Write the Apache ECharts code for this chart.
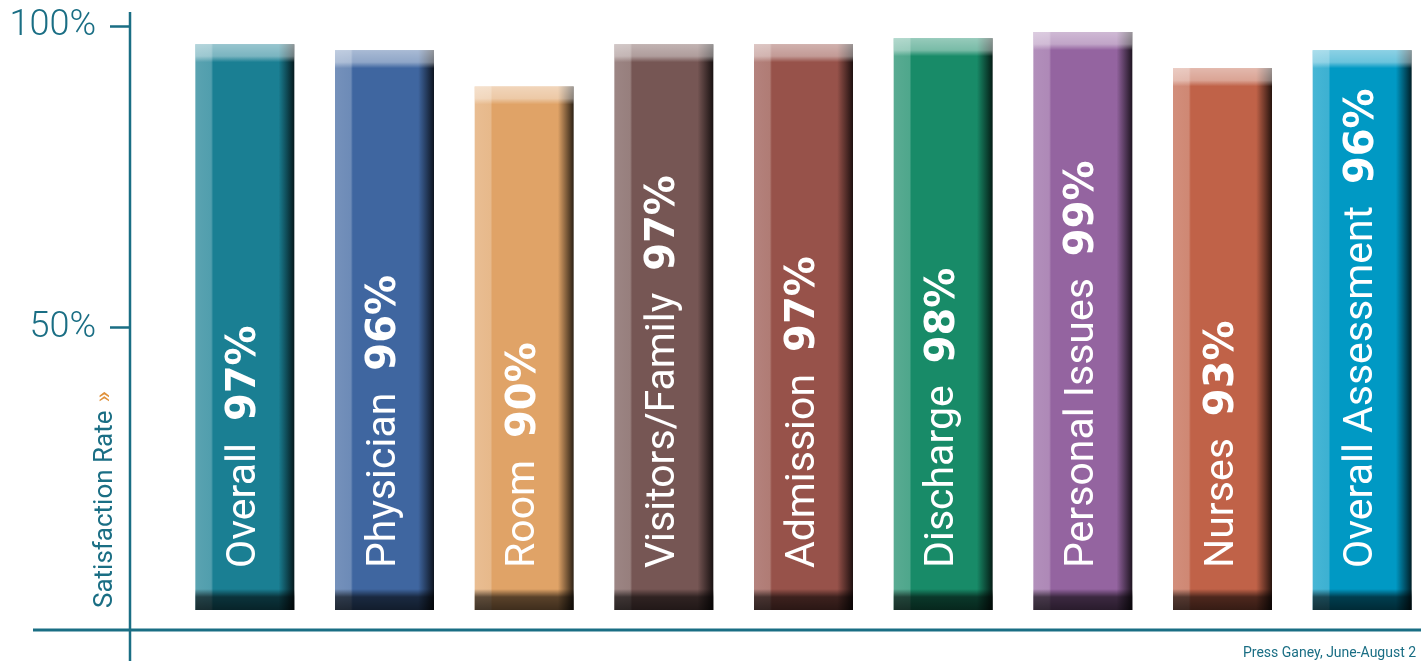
<!DOCTYPE html>
<html>
<head>
<meta charset="utf-8">
<script src="https://cdn.jsdelivr.net/npm/echarts@6/dist/echarts.min.js"></script>
<style>
html,body{margin:0;padding:0;background:#fff;overflow:hidden;}
#chart{width:1421px;height:661px;}
</style>
</head>
<body>
<div id="chart"></div>
<script>
// ---- data ----
var categories = ['Overall','Physician','Room','Visitors/Family','Admission','Discharge','Personal Issues','Nurses','Overall Assessment'];
var values = [97, 96, 90, 97, 97, 98, 99, 93, 96];
var barColors = ['#1a7f93','#3f66a0','#e0a367','#765654','#97524a','#188b68','#9464a0','#c06248','#0099c4'];
var yTicks = [50, 100];
var axisTitle = 'Satisfaction Rate';
var sourceText = 'Press Ganey, June-August 2';

// ---- layout / style ----
var AXIS = '#1a6e84';
var Y_MIN = 3.2, Y_MAX = 102;
var GRID_TOP = 14, GRID_BOTTOM = 51, H = 661;
var GRID_H = H - GRID_TOP - GRID_BOTTOM;

function hex2rgb(h){h=h.replace('#','');return [parseInt(h.substr(0,2),16),parseInt(h.substr(2,2),16),parseInt(h.substr(4,2),16)];}
function mix(c, target, t){
  var a = hex2rgb(c), b = target === 'w' ? [255,255,255] : [0,0,0];
  return 'rgb(' + a.map(function(v,i){return Math.round(v + (b[i]-v)*t);}).join(',') + ')';
}

var baseData = values.map(function(v, i){
  var c = barColors[i];
  return {
    value: v,
    itemStyle: {
      color: new echarts.graphic.LinearGradient(0,0,1,0,[
        {offset:0, color: mix(c,'w',0.28)},
        {offset:0.16, color: mix(c,'w',0.24)},
        {offset:0.18, color: c},
        {offset:0.84, color: c},
        {offset:0.93, color: mix(c,'b',0.45)},
        {offset:1, color: mix(c,'b',0.8)}
      ])
    }
  };
});

var overlayData = values.map(function(v, i){
  var h = (v - Y_MIN) / (Y_MAX - Y_MIN) * GRID_H;
  var t1 = 12 / h, t2 = 18 / h, b1 = 1 - 21 / h, b2 = 1 - 13 / h;
  return {
    value: v,
    itemStyle: {
      color: new echarts.graphic.LinearGradient(0,0,0,1,[
        {offset:0, color:'rgba(255,255,255,0.55)'},
        {offset:t1, color:'rgba(255,255,255,0.42)'},
        {offset:t2, color:'rgba(255,255,255,0)'},
        {offset:b1, color:'rgba(0,0,0,0)'},
        {offset:b2, color:'rgba(0,0,0,0.6)'},
        {offset:1, color:'rgba(0,0,0,0.72)'}
      ])
    }
  };
});

var chart = echarts.init(document.getElementById('chart'), null, {renderer:'canvas'});
chart.setOption({
  animation: false,
  grid: { left: 175, top: GRID_TOP, right: -11, bottom: GRID_BOTTOM, outerBoundsMode: 'none', containLabel: false },
  xAxis: {
    type: 'category', data: categories,
    axisLine: {show:false}, axisTick: {show:false}, axisLabel: {show:false}
  },
  yAxis: {
    type: 'value', min: Y_MIN, max: Y_MAX, offset: 45,
    axisLine: {show:false},
    splitLine: {show:false},
    axisTick: {show:true, length:20, customValues: yTicks, lineStyle:{color:AXIS, width:2.5}},
    axisLabel: {
      customValues: yTicks, formatter: '{value}%', margin: 34,
      fontFamily: 'Roboto', fontWeight: 300, fontSize: 36, color: AXIS
    }
  },
  series: [
    {
      type: 'bar', data: baseData, barWidth: 99, barGap: '-100%', silent: true
    },
    {
      type: 'bar', data: overlayData, barWidth: 99, barGap: '-100%', silent: true,
      label: {
        show: true, position: 'insideBottom', distance: 42, rotate: 90,
        align: 'left', verticalAlign: 'middle',
        formatter: function(p){ return '{n|' + p.name + '}{v|' + p.value + '%}'; },
        rich: {
          n: {fontFamily:'Roboto', fontSize:41, color:'#fff'},
          v: {fontFamily:'DejaVu Sans', fontWeight:'bold', fontSize:40, color:'#fff', padding:[0,0,0,22]}
        }
      }
    }
  ],
  graphic: [
    {type:'line', shape:{x1:130, y1:12, x2:130, y2:661}, style:{stroke:AXIS, lineWidth:2.5}},
    {type:'line', shape:{x1:33, y1:630, x2:1421, y2:630}, style:{stroke:AXIS, lineWidth:3}},
    {type:'text', x:105, y:608, rotation: Math.PI/2,
      style:{
        text: '{t|' + axisTitle + '}{c|»}',
        align:'left', verticalAlign:'middle',
        rich: {
          t: {fontFamily:'Roboto', fontSize:26, fill:AXIS},
          c: {fontFamily:'Roboto', fontSize:24, fill:'#e0913a', padding:[0,0,0,8]}
        }
      }
    },
    {type:'text', x:1243, y:653,
      style:{text: sourceText, fontFamily:'Roboto', fontSize:14, fill:AXIS, align:'left', verticalAlign:'middle'}}
  ]
});
</script>
</body>
</html>
